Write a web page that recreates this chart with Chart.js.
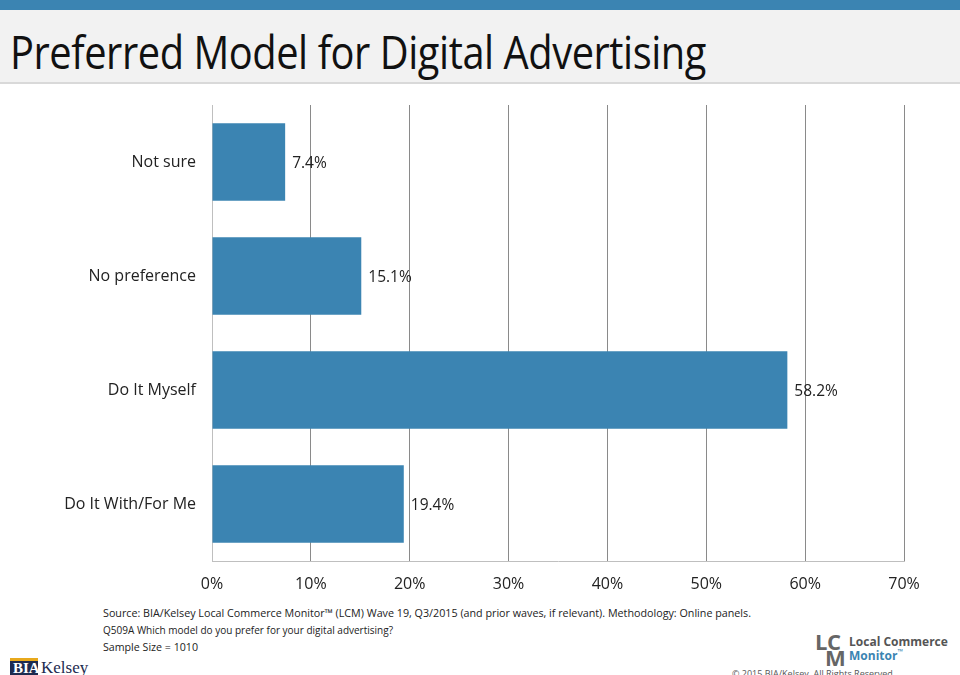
<!DOCTYPE html>
<html>
<head>
<meta charset="utf-8">
<script src="https://cdn.jsdelivr.net/npm/chart.js@4"></script>
<style>
  body { margin: 0; width: 960px; height: 675px; overflow: hidden; background: #fff; font-family: "Open Sans", sans-serif; position: relative; }
  #topbar { position: absolute; left: 0; top: 0; width: 960px; height: 10px; background: #3b84b2; }
  #titlebar { position: absolute; left: 0; top: 10px; width: 960px; height: 72px; background: #f2f2f2; border-bottom: 2px solid #d9d9d9; }
  #title { position: absolute; left: 10px; top: 20px; font-size: 46px; color: #111; white-space: nowrap; transform-origin: 0 0; display: inline-block; letter-spacing: -0.5px; }
  #chartBox { position: absolute; left: 0; top: 0; width: 960px; height: 600px; }
  .note { position: absolute; left: 103px; font-size: 11px; color: #222; white-space: nowrap; transform-origin: 0 0; display: inline-block; }
  #copy { position: absolute; left: 732px; top: 667px; font-size: 9px; color: #555; white-space: nowrap; }
  #lcm { position: absolute; left: 815px; top: 628px; }
  #bia { position: absolute; left: 10px; top: 658px; width: 80px; height: 20px; }
</style>
</head>
<body>
<div id="topbar"></div>
<div id="titlebar"></div>
<span id="title">Preferred Model for Digital Advertising</span>
<div id="chartBox"><canvas id="chartBar" width="960" height="600"></canvas></div>
<span class="note" id="n1" style="top:605px">Source: BIA/Kelsey Local Commerce Monitor™ (LCM) Wave 19, Q3/2015 (and prior waves, if relevant). Methodology: Online panels.</span>
<span class="note" id="n2" style="top:622px">Q509A Which model do you prefer for your digital advertising?</span>
<span class="note" id="n3" style="top:639px">Sample Size = 1010</span>
<div id="lcm">
  <span style="position:absolute;left:0;top:-2px;font:bold 22px 'Open Sans';color:#666;letter-spacing:-2px">L</span>
  <span style="position:absolute;left:12px;top:-2px;font:bold 22px 'Open Sans';color:#666">C</span>
  <span style="position:absolute;left:10px;top:14px;font:bold 22px 'Open Sans';color:#666">M</span>
  <span style="position:absolute;left:34px;top:5px;font:bold 12px 'Open Sans';color:#555;white-space:nowrap">Local Commerce</span>
  <span style="position:absolute;left:34px;top:19px;font:bold 12px 'Open Sans';color:#3b84b2;white-space:nowrap">Monitor<span style="font-size:7px;vertical-align:top">™</span></span>
</div>
<span id="copy">© 2015 BIA/Kelsey. All Rights Reserved.</span>
<div id="bia">
  <div style="position:absolute;left:0;top:0;width:28px;height:20px;background:#1d2b4f;border-top:3px solid #e8a91c;box-sizing:border-box"></div>
  <span style="position:absolute;left:3px;top:2px;font:bold 15px 'Liberation Serif';color:#fff">BIA</span>
  <span style="position:absolute;left:31px;top:0px;font:17px 'Liberation Serif';color:#1d2b4f">Kelsey</span>
</div>
<script>
// ---------------------------------------------
// data
// ---------------------------------------------
const categories = ["Not sure", "No preference", "Do It Myself", "Do It With/For Me"];
const shares = [7.4, 15.1, 58.2, 19.4];
const tickValues = [0, 10, 20, 30, 40, 50, 60, 70];

// fit the condensed-looking texts to the reference widths
function squeeze(id, target) {
  const el = document.getElementById(id);
  const w = el.getBoundingClientRect().width;
  if (w > 0) el.style.transform = "scaleX(" + (target / w) + ")";
}
squeeze("title", 696);
squeeze("n1", 648);
squeeze("n2", 290);
squeeze("n3", 95);

// value labels to the right of each bar
const barLabels = {
  id: "barLabels",
  afterDatasetsDraw(chart) {
    const ctx = chart.ctx;
    const meta = chart.getDatasetMeta(0);
    ctx.save();
    ctx.font = "15.5px 'Open Sans'";
    ctx.fillStyle = "#222";
    ctx.textAlign = "left";
    ctx.textBaseline = "middle";
    meta.data.forEach((bar, i) => {
      ctx.fillText(shares[i].toFixed(1) + "%", bar.x + 7, bar.y + 2);
    });
    ctx.restore();
  }
};

new Chart(document.getElementById("chartBar"), {
  type: "bar",
  data: {
    labels: categories,
    datasets: [{
      data: shares,
      backgroundColor: "#3b84b2",
      borderWidth: 0,
      categoryPercentage: 1,
      barPercentage: 0.68
    }]
  },
  options: {
    indexAxis: "y",
    responsive: false,
    animation: false,
    devicePixelRatio: 1,
    layout: { padding: { top: 105, right: 56, left: 0, bottom: 0 } },
    plugins: { legend: { display: false }, tooltip: { enabled: false } },
    scales: {
      x: {
        min: 0,
        max: 70,
        afterBuildTicks: s => { s.ticks = tickValues.map(v => ({ value: v })); },
        afterFit: s => { s.height = 39; },
        ticks: {
          padding: 14,
          color: "#222",
          font: { family: "Open Sans", size: 16 },
          callback: v => v + "%"
        },
        grid: {
          drawTicks: false,
          color: c => (c.index === 0 ? "#bfbfbf" : "#8a8a8a"),
          lineWidth: 1
        },
        border: { color: "#bfbfbf" }
      },
      y: {
        afterFit: s => { s.width = 212; },
        ticks: {
          padding: 16,
          color: "#222",
          font: { family: "Open Sans", size: 16 }
        },
        grid: { display: false, drawTicks: false },
        border: { color: "#bfbfbf" }
      }
    }
  },
  plugins: [barLabels]
});
</script>
</body>
</html>
